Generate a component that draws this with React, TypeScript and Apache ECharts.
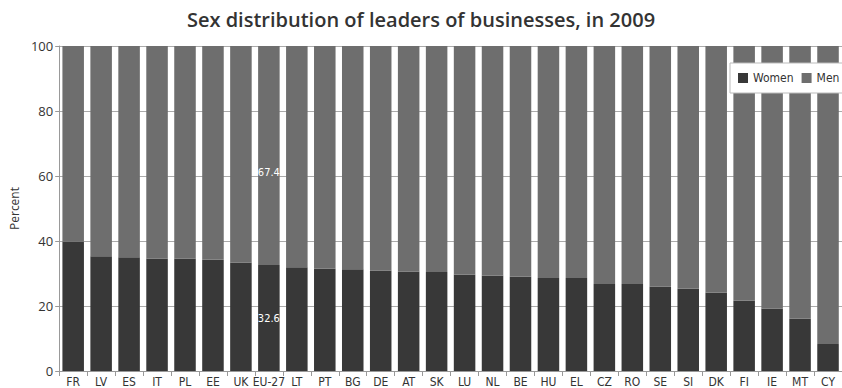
import React, { useEffect, useRef } from "react";
import * as echarts from "echarts";

const categories = ["FR", "LV", "ES", "IT", "PL", "EE", "UK", "EU-27", "LT", "PT", "BG", "DE", "AT", "SK", "LU", "NL", "BE", "HU", "EL", "CZ", "RO", "SE", "SI", "DK", "FI", "IE", "MT", "CY"];
const women = [39.8, 35.3, 35.0, 34.6, 34.6, 34.2, 33.4, 32.6, 31.9, 31.5, 31.3, 30.9, 30.6, 30.5, 29.6, 29.3, 29.0, 28.6, 28.6, 26.8, 26.8, 26.0, 25.3, 24.1, 21.6, 19.2, 16.1, 8.3];
const men = [60.2, 64.7, 65.0, 65.4, 65.4, 65.8, 66.6, 67.4, 68.1, 68.5, 68.7, 69.1, 69.4, 69.5, 70.4, 70.7, 71.0, 71.4, 71.4, 73.2, 73.2, 74.0, 74.7, 75.9, 78.4, 80.8, 83.9, 91.7];
const yTicks = [0, 20, 40, 60, 80, 100];
const labelled = "EU-27";

const FONT = "'Liberation Sans Narrow', 'DejaVu Sans Condensed', 'Roboto Condensed', sans-serif";

export default function App() {
  const ref = useRef<HTMLDivElement>(null);
  useEffect(() => {
    if (!ref.current) return;
    const chart = echarts.init(ref.current, null, { renderer: "svg" });
    const mk = (vals: number[], offset: number[]) =>
      vals.map((v, i) =>
        categories[i] === labelled
          ? { value: v, label: { show: true, position: "inside", offset, color: "#fff", fontSize: 11, fontFamily: FONT, formatter: (p: any) => String(p.value) } }
          : v
      );
    chart.setOption({
      animation: false,
      backgroundColor: "#fff",
      title: {
        text: "Sex distribution of leaders of businesses, in 2009",
        left: "center",
        top: 4,
        textStyle: { fontFamily: "'Open Sans', sans-serif", fontWeight: 600, fontSize: 20, color: "#333" },
      },
      legend: {
        data: ["Women", "Men"],
        left: 730,
        top: 63,
        width: 200,
        orient: "horizontal",
        padding: [9, 4, 9, 8],
        itemWidth: 10,
        itemHeight: 10,
        itemGap: 8,
        backgroundColor: "#fff",
        borderColor: "#bbb",
        borderWidth: 1,
        icon: "rect",
        textStyle: { fontFamily: FONT, fontSize: 12, color: "#333" },
      },
      grid: { left: 45, top: 46, width: 801, height: 325 },
      xAxis: {
        type: "category",
        data: categories,
        axisLine: { lineStyle: { color: "#999" } },
        axisTick: { show: true, length: 5, lineStyle: { color: "#999" } },
        axisLabel: { fontFamily: FONT, fontSize: 12, color: "#333", margin: 5, interval: 0 },
      },
      yAxis: {
        type: "value",
        min: 0,
        max: 100,
        interval: 20,
        name: "Percent",
        nameLocation: "middle",
        nameGap: 24,
        nameTextStyle: { fontFamily: "'Open Sans', sans-serif", fontSize: 12, color: "#333" },
        axisLine: { show: true, lineStyle: { color: "#999" } },
        axisTick: { show: true, length: 4, lineStyle: { color: "#999" } },
        axisLabel: {
          fontFamily: "'Open Sans', sans-serif",
          fontSize: 13,
          color: "#333",
          margin: 6,
          formatter: (v: number) => (yTicks.includes(v) ? String(v) : ""),
        },
        splitLine: { show: true, lineStyle: { color: "#aaa", width: 1 } },
      },
      series: [
        {
          name: "Women",
          type: "bar",
          stack: "total",
          barCategoryGap: "23%",
          itemStyle: { color: "#383838" },
          data: mk(women, [0, 0]),
        },
        {
          name: "Men",
          type: "bar",
          stack: "total",
          barCategoryGap: "23%",
          itemStyle: { color: "#6e6e6e" },
          data: mk(men, [0, 17]),
        },
      ],
    });
    return () => chart.dispose();
  }, []);
  return <div ref={ref} style={{ position: "fixed", left: 0, top: 0, width: 842, height: 388 }} />;
}
